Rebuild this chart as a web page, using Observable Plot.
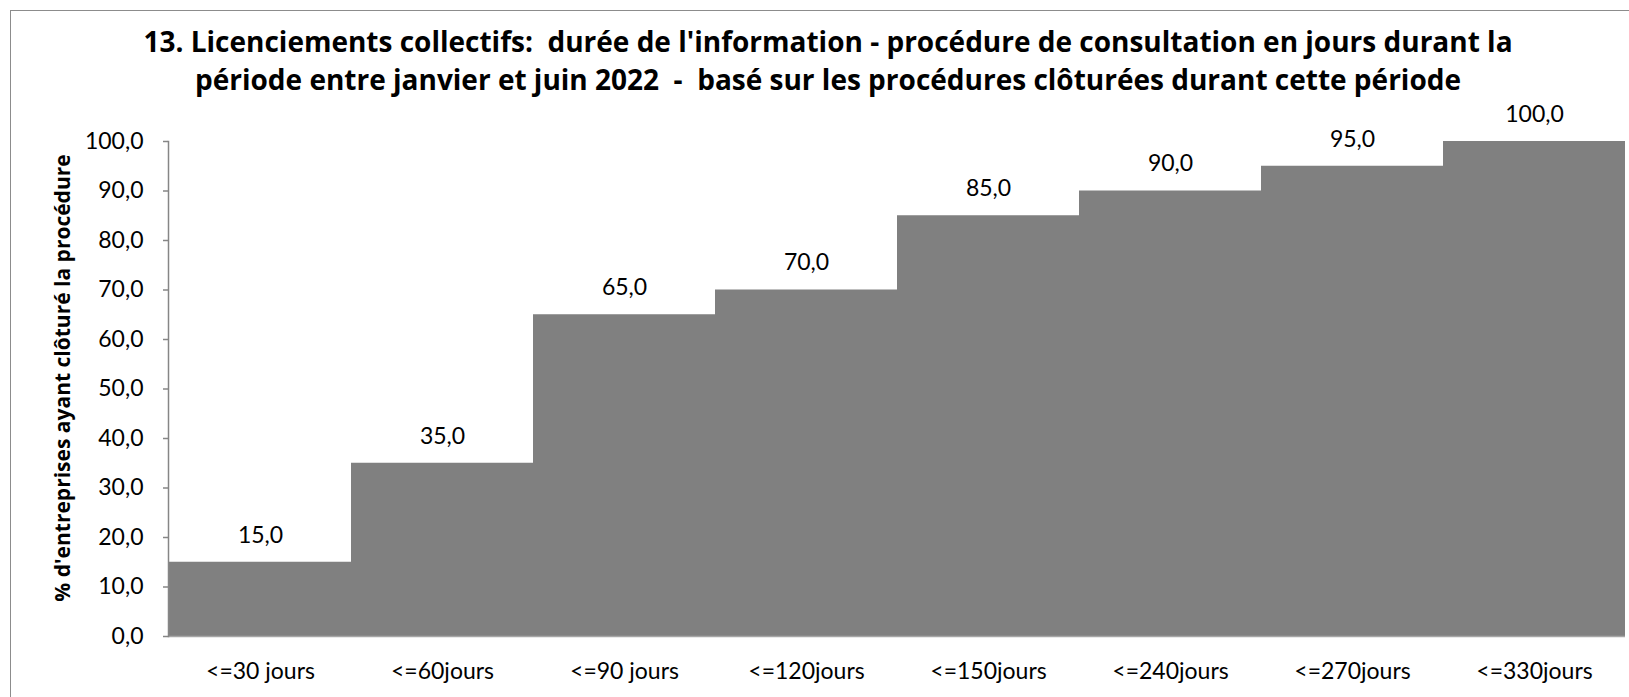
<!DOCTYPE html>
<html><head><meta charset="utf-8">
<script src="https://cdn.jsdelivr.net/npm/d3@7"></script>
<script src="https://cdn.jsdelivr.net/npm/@observablehq/plot@0.6"></script>
<style>
body{margin:0;background:#fff;overflow:hidden;font-family:Lato,sans-serif;}
#wrap{position:relative;width:1629px;height:697px;}
#border{position:absolute;left:10px;top:10px;width:1640px;height:700px;border:1.5px solid #8c8c8c;box-sizing:border-box;}
#title{position:absolute;left:0;width:1656px;top:22px;text-align:center;font-family:"Open Sans",sans-serif;font-weight:bold;font-size:28px;line-height:38px;color:#000;}
#ylab{position:absolute;left:62px;top:378px;transform:translate(-50%,-50%) rotate(-90deg);white-space:nowrap;font-family:"Open Sans",sans-serif;font-weight:bold;font-size:21px;color:#000;}
svg{position:absolute;left:0;top:0;}
</style></head>
<body><div id="wrap"><div id="border"></div></div>
<script>
const categories = ["<=30 jours","<=60jours","<=90 jours","<=120jours","<=150jours","<=240jours","<=270jours","<=330jours"];
const values = [15,35,65,70,85,90,95,100];
const yTicks = [0,10,20,30,40,50,60,70,80,90,100];
const titleLines = ["13. Licenciements collectifs:  durée de l'information - procédure de consultation en jours durant la",
  "période entre janvier et juin 2022  -  basé sur les procédures clôturées durant cette période"];
const yLabel = "% d'entreprises ayant clôturé la procédure";

const data = categories.map((c,i)=>({cat:c, v:values[i]}));
const fmt = v => d3.format(".1f")(v).replace(".", ",");

const chart = Plot.plot({
  width:1629, height:697,
  marginLeft:168, marginRight:4, marginTop:141, marginBottom:61,
  style:{fontFamily:"Lato, sans-serif", fontSize:"23px", color:"#000", background:"transparent"},
  x:{type:"band", domain:categories, padding:0, label:null},
  y:{domain:[0,100], label:null},
  marks:[
    Plot.barY(data,{x:"cat", y:"v", fill:"#808080", inset:0}),
    Plot.ruleY([0],{stroke:"#a6a6a6", strokeWidth:1.5}),
    Plot.frame({anchor:"left", stroke:"#868686", strokeWidth:1.5}),
    Plot.axisY({ticks:yTicks, tickFormat:fmt, tickSize:5, tickPadding:20, stroke:"#868686", strokeWidth:1.5, fill:"#000", fontSize:23, label:null}),
    Plot.axisX({tickSize:0, tickPadding:26, fontSize:23, fill:"#000", label:null}),
    Plot.text(data,{x:"cat", y:"v", text:d=>fmt(d.v), dy:-27, fontSize:23, fill:"#000"})
  ]
});
const wrap = document.getElementById("wrap");
wrap.appendChild(chart);
const t = document.createElement("div"); t.id="title";
t.innerHTML = titleLines.map(s=>s.replace(/  /g," &nbsp;")).join("<br>");
wrap.appendChild(t);
const yl = document.createElement("div"); yl.id="ylab"; yl.textContent = yLabel;
wrap.appendChild(yl);
</script></body></html>
